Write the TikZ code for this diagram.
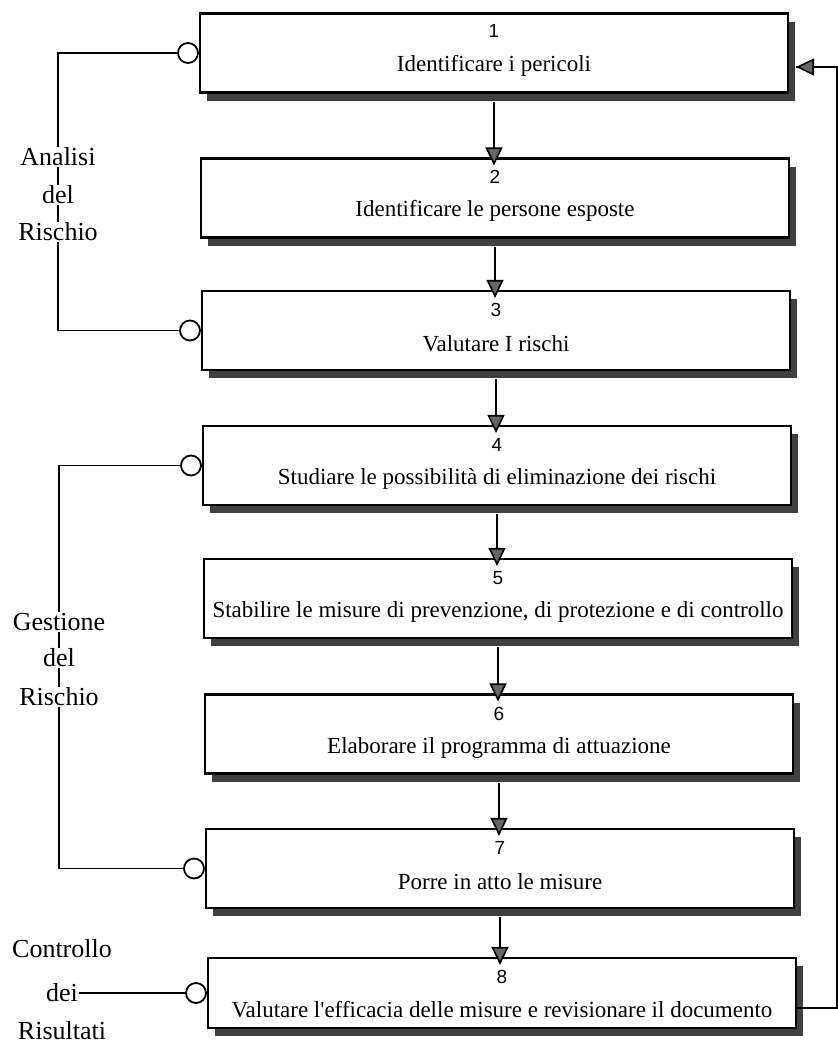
\documentclass[tikz,border=0pt]{standalone}
\usepackage{fontspec}
\setmainfont{Liberation Serif}
\newfontfamily\numfont{Liberation Sans}
\usetikzlibrary{arrows.meta,shadows}
\begin{document}
\begin{tikzpicture}[x=1pt,y=-1pt,
  stepbox/.style={draw, line width=2.2pt, fill=white, minimum width=588pt,
    minimum height=79pt, inner sep=0pt,
    drop shadow={shadow xshift=7pt, shadow yshift=-8pt, fill=black!75, opacity=1}},
  numlbl/.style={font=\numfont\fontsize{19}{22}\selectfont, inner sep=0pt},
  steptext/.style={font=\fontsize{23}{26}\selectfont, inner sep=0pt},
  grp/.style={font=\fontsize{26}{30}\selectfont, fill=white, inner sep=1pt},
  circ/.style={draw, circle, line width=1.8pt, fill=white, minimum size=20pt, inner sep=0pt},
  conn/.style={line width=1.6pt},
  flow/.style={line width=1.6pt, -{Triangle[width=17pt,length=18pt,fill=black!60]}},
  fb/.style={line width=1.2pt}
]
\path[use as bounding box] (0,0) rectangle (838,1047);

% boxes
\node[stepbox] (b1) at (494,53) {};
\node[stepbox] (b2) at (495,198) {};
\node[stepbox] (b3) at (496,330.5) {};
\node[stepbox] (b4) at (497,465.5) {};
\node[stepbox] (b5) at (498,598.5) {};
\node[stepbox] (b6) at (499,734) {};
\node[stepbox] (b7) at (500,868.5) {};
\node[stepbox, minimum height=70pt] (b8) at (502,993) {};

% numbers and texts
\node[numlbl] (n1) at (494,31) {1};
\node[steptext] (t1) at (494,66) {Identificare i pericoli};
\node[numlbl] (n2) at (495,177) {2};
\node[steptext] (t2) at (495,211) {Identificare le persone esposte};
\node[numlbl] (n3) at (496,310) {3};
\node[steptext] (t3) at (496,344) {Valutare I rischi};
\node[numlbl] (n4) at (497,445) {4};
\node[steptext] (t4) at (497,479) {Studiare le possibilità di eliminazione dei rischi};
\node[numlbl] (n5) at (498,578) {5};
\node[steptext] (t5) at (498,612) {Stabilire le misure di prevenzione, di protezione e di controllo};
\node[numlbl] (n6) at (499,714) {6};
\node[steptext] (t6) at (499,748) {Elaborare il programma di attuazione};
\node[numlbl] (n7) at (500,848) {7};
\node[steptext] (t7) at (500,882) {Porre in atto le misure};
\node[numlbl] (n8) at (502,977) {8};
\node[steptext] (t8) at (502,1010) {Valutare l\textquotesingle efficacia delle misure e revisionare il documento};

% flow arrows (vertical)
\draw[flow] ([yshift=-8pt]b1.south) -- ([yshift=-8pt]b1.south |- b2.north);
\draw[flow] ([yshift=-8pt]b2.south) -- ([yshift=-8pt]b2.south |- b3.north);
\draw[flow] ([yshift=-8pt]b3.south) -- ([yshift=-8pt]b3.south |- b4.north);
\draw[flow] ([yshift=-8pt]b4.south) -- ([yshift=-8pt]b4.south |- b5.north);
\draw[flow] ([yshift=-8pt]b5.south) -- ([yshift=-8pt]b5.south |- b6.north);
\draw[flow] ([yshift=-8pt]b6.south) -- ([yshift=-8pt]b6.south |- b7.north);
\draw[flow] ([yshift=-8pt]b7.south) -- ([yshift=-8pt]b7.south |- b8.north);

% circles
\node[circ, anchor=east] (c1) at (b1.west) {};
\node[circ, anchor=east] (c3) at (b3.west) {};
\node[circ, anchor=east] (c4) at (b4.west) {};
\node[circ, anchor=east] (c7) at (b7.west) {};
\node[circ, anchor=east] (c8) at (b8.west) {};

% left groups
\coordinate (aT) at (58,53);
\coordinate (aB) at (58,330.5);
\draw[conn] (c1.west) -- (aT) -- (aB) -- (c3.west);
\node[grp] (la1) at (58,157) {Analisi};
\node[grp] (la2) at (58,195) {del};
\node[grp] (la3) at (58,232) {Rischio};

\coordinate (gT) at (59,465.5);
\coordinate (gB) at (59,868.5);
\draw[conn] (c4.west) -- (gT) -- (gB) -- (c7.west);
\node[grp] (lg1) at (59,622) {Gestione};
\node[grp] (lg2) at (59,658) {del};
\node[grp] (lg3) at (59,697) {Rischio};

\node[grp] (lc1) at (62,949) {Controllo};
\node[grp] (lc2) at (62,993) {dei};
\node[grp] (lc3) at (62,1031) {Risultati};
\draw[conn] (lc2.east) -- (c8.west);

% feedback loop
\coordinate (fA) at (837,1008);
\coordinate (fB) at (837,67);
\coordinate (fE) at (796,67);
\draw[fb] (b8.east |- fA) -- (fA) -- (fB) -- (fE);
\draw[flow] (fB) -- (fE);
\end{tikzpicture}
\end{document}
